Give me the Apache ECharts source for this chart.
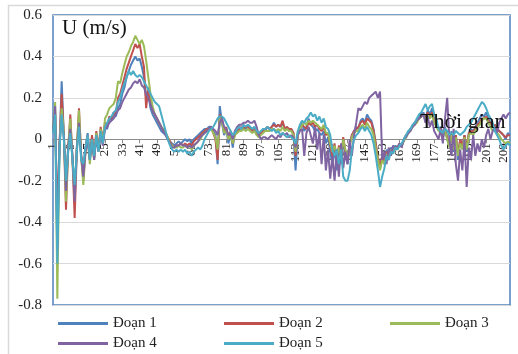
<!DOCTYPE html>
<html>
<head>
<meta charset="utf-8">
<script src="https://cdn.jsdelivr.net/npm/echarts@6/dist/echarts.min.js"></script>
<style>
  html, body { margin: 0; padding: 0; background: #fff; }
  #chart { width: 518px; height: 354px; }
</style>
</head>
<body>
<div id="chart"></div>
<script>
// Time steps 1..212
const categories = Array.from({ length: 212 }, (_, k) => String(k + 1));

const seriesNames = ['Đoạn 1', 'Đoạn 2', 'Đoạn 3', 'Đoạn 4', 'Đoạn 5'];
const seriesColors = ['#4F81BD', '#C0504D', '#9BBB59', '#8064A2', '#4BACC6'];

const yTicks = { min: -0.8, max: 0.6, step: 0.2 };

// Velocity U (m/s) per segment
const doan1 = [
  0.05, 0.14, -0.45, -0.05, 0.28, 0.02, -0.22, -0.04, 0.06, -0.10,
  -0.25, -0.04, 0.08, -0.08, -0.15, -0.04, 0.03, -0.08, 0.01, -0.09,
  0.02, -0.05, 0.04, -0.02, 0.06, 0.05, 0.10, 0.09, 0.12, 0.11,
  0.15, 0.17, 0.22, 0.25, 0.30, 0.33, 0.36, 0.38, 0.40, 0.38,
  0.39, 0.35, 0.30, 0.20, 0.22, 0.15, 0.12, 0.10, 0.08, 0.06,
  0.04, 0.03, 0.02, 0.00, -0.01, -0.02, -0.03, -0.02, -0.01, -0.02,
  -0.01, 0.00, -0.01, 0.00, -0.02, 0.00, 0.01, 0.02, 0.03, 0.04,
  0.05, 0.05, 0.06, 0.06, 0.04, 0.02, -0.12, 0.16, 0.08, 0.02,
  0.05, -0.02, 0.03, -0.04, 0.04, 0.03, 0.06, 0.05, 0.06, 0.05,
  0.07, 0.06, 0.05, 0.06, 0.04, 0.02, 0.03, 0.05, 0.04, 0.06,
  0.05, 0.06, 0.08, 0.06, 0.07, 0.06, 0.08, 0.05, 0.06, 0.04,
  0.05, 0.03, -0.15, 0.02, 0.06, 0.08, 0.04, 0.06, 0.10, 0.07,
  0.06, 0.04, 0.05, 0.03, 0.02, 0.04, -0.02, 0.01, -0.06, -0.12,
  -0.04, -0.15, -0.05, -0.12, 0.00, -0.08, -0.12, -0.02, 0.02, 0.04,
  0.06, 0.05, 0.09, 0.10, 0.08, 0.12, 0.10, 0.09, 0.05, -0.02,
  -0.10, -0.14, -0.08, -0.12, -0.05, -0.08, -0.04, -0.06, -0.03, -0.05,
  -0.02, -0.03, 0.00, 0.02, 0.03, 0.05, 0.06, 0.08, 0.09, 0.11,
  0.12, 0.13, 0.10, 0.14, 0.12, 0.15, 0.10, 0.08, 0.05, 0.06,
  0.02, 0.06, 0.00, -0.03, 0.04, -0.06, 0.02, -0.10, 0.00, -0.04,
  0.02, -0.06, 0.03, 0.05, 0.04, 0.06, 0.08, 0.10, 0.12, 0.11,
  0.13, 0.10, 0.08, 0.06, 0.07, 0.05, 0.04, 0.03, 0.02, 0.00, 0.03, 0.02
];

const doan2 = [
  0.04, 0.12, -0.40, -0.02, 0.22, 0.02, -0.34, -0.05, 0.12, -0.10,
  -0.38, -0.05, 0.15, -0.08, -0.20, -0.05, 0.02, -0.10, 0.02, -0.08,
  0.04, -0.05, 0.06, 0.00, 0.08, 0.06, 0.11, 0.10, 0.13, 0.12,
  0.20, 0.22, 0.26, 0.30, 0.34, 0.37, 0.40, 0.43, 0.46, 0.44,
  0.46, 0.40, 0.35, 0.15, 0.25, 0.18, 0.14, 0.12, 0.10, 0.08,
  0.06, 0.04, 0.03, 0.01, -0.01, -0.03, -0.04, -0.03, -0.03, -0.02,
  -0.03, -0.02, -0.03, -0.02, -0.03, -0.01, 0.00, 0.01, 0.02, 0.03,
  0.04, 0.05, 0.05, 0.06, 0.03, 0.00, -0.10, 0.12, 0.10, 0.04,
  0.06, 0.00, 0.04, -0.02, 0.03, 0.04, 0.05, 0.06, 0.05, 0.06,
  0.06, 0.05, 0.04, 0.05, 0.03, 0.02, 0.03, 0.04, 0.05, 0.06,
  0.05, 0.06, 0.07, 0.06, 0.07, 0.06, 0.09, 0.05, 0.06, 0.05,
  0.05, 0.03, -0.08, 0.02, 0.05, 0.07, 0.06, 0.05, 0.08, 0.07,
  0.08, 0.06, 0.07, 0.05, 0.04, 0.06, 0.02, 0.03, -0.03, -0.08,
  -0.02, -0.10, -0.03, -0.10, 0.01, -0.06, -0.10, -0.02, 0.02, 0.04,
  0.05, 0.06, 0.08, 0.09, 0.07, 0.10, 0.09, 0.08, 0.04, -0.02,
  -0.09, -0.13, -0.08, -0.11, -0.06, -0.08, -0.05, -0.06, -0.04, -0.04,
  -0.02, -0.03, 0.00, 0.02, 0.03, 0.05, 0.06, 0.08, 0.09, 0.10,
  0.11, 0.12, 0.10, 0.13, 0.11, 0.13, 0.09, 0.07, 0.05, 0.05,
  0.02, 0.05, 0.01, -0.02, 0.03, -0.04, 0.02, -0.07, 0.00, -0.03,
  0.02, -0.04, 0.03, 0.04, 0.04, 0.05, 0.07, 0.08, 0.10, 0.10,
  0.11, 0.09, 0.08, 0.06, 0.07, 0.05, 0.04, 0.03, 0.02, 0.01, 0.02, 0.02
];

const doan3 = [
  0.06, 0.18, -0.77, -0.03, 0.15, 0.03, -0.30, -0.04, 0.10, -0.10,
  -0.28, -0.04, 0.14, -0.08, -0.22, -0.06, 0.01, -0.12, 0.00, -0.10,
  0.03, -0.06, 0.05, -0.02, 0.10, 0.12, 0.15, 0.16, 0.17, 0.20,
  0.28, 0.27, 0.32, 0.36, 0.40, 0.42, 0.45, 0.47, 0.50, 0.48,
  0.46, 0.48, 0.45, 0.38, 0.30, 0.22, 0.16, 0.12, 0.10, 0.08,
  0.06, 0.05, 0.03, 0.01, -0.02, -0.03, -0.04, -0.04, -0.03, -0.04,
  -0.04, -0.03, -0.04, -0.03, -0.05, -0.03, -0.02, -0.01, 0.00, 0.02,
  0.03, 0.04, 0.05, 0.05, 0.03, 0.01, -0.05, 0.10, 0.09, 0.03,
  0.04, 0.00, 0.02, -0.02, 0.02, 0.03, 0.04, 0.04, 0.05, 0.04,
  0.05, 0.04, 0.03, 0.04, 0.02, 0.01, 0.02, 0.03, 0.04, 0.04,
  0.04, 0.05, 0.05, 0.04, 0.05, 0.04, 0.06, 0.04, 0.05, 0.04,
  0.04, 0.02, -0.06, 0.02, 0.05, 0.07, 0.08, 0.07, 0.09, 0.08,
  0.09, 0.08, 0.07, 0.06, 0.05, 0.07, 0.03, 0.03, -0.02, -0.06,
  -0.03, -0.08, -0.04, -0.09, 0.00, -0.05, -0.08, -0.03, 0.01, 0.03,
  0.04, 0.04, 0.06, 0.07, 0.05, 0.08, 0.06, 0.05, 0.02, -0.04,
  -0.10, -0.15, -0.10, -0.12, -0.07, -0.09, -0.05, -0.07, -0.04, -0.05,
  -0.03, -0.03, -0.01, 0.01, 0.03, 0.04, 0.06, 0.07, 0.08, 0.10,
  0.11, 0.12, 0.09, 0.12, 0.10, 0.12, 0.08, 0.06, 0.04, 0.04,
  0.01, 0.04, 0.00, -0.04, 0.02, -0.05, 0.01, -0.08, -0.02, -0.05,
  0.01, -0.05, 0.02, 0.03, 0.02, 0.04, 0.06, 0.07, 0.09, 0.10,
  0.10, 0.08, 0.06, 0.04, 0.05, 0.03, 0.02, 0.00, -0.01, -0.02, -0.01, -0.02
];

const doan4 = [
  0.05, 0.16, -0.53, -0.02, 0.10, 0.02, -0.25, -0.04, 0.05, -0.08,
  -0.30, -0.05, 0.08, -0.08, -0.18, -0.06, 0.00, -0.10, -0.01, -0.10,
  0.01, -0.06, 0.03, -0.03, 0.05, 0.06, 0.08, 0.09, 0.10, 0.12,
  0.14, 0.15, 0.18, 0.20, 0.22, 0.24, 0.25, 0.27, 0.28, 0.27,
  0.29, 0.26, 0.25, 0.22, 0.20, 0.17, 0.14, 0.12, 0.10, 0.08,
  0.06, 0.04, 0.02, 0.00, -0.02, -0.04, -0.04, -0.03, -0.03, -0.02,
  -0.03, -0.03, -0.04, -0.03, -0.04, -0.03, -0.02, -0.01, 0.01, 0.02,
  0.03, 0.04, 0.05, 0.06, 0.05, 0.04, 0.02, 0.08, 0.10, 0.06,
  0.05, 0.02, 0.03, 0.00, 0.04, 0.06, 0.07, 0.07, 0.08, 0.08,
  0.09, 0.08, 0.08, 0.09, 0.06, 0.02, 0.00, 0.01, 0.01, 0.00,
  0.01, 0.02, 0.01, 0.00, 0.02, 0.01, 0.03, 0.02, 0.03, 0.01,
  0.02, 0.01, -0.04, 0.02, 0.04, 0.05, -0.08, 0.03, 0.06, 0.02,
  -0.02, 0.06, -0.05, 0.03, -0.12, 0.02, -0.15, -0.05, -0.19, -0.08,
  -0.20, -0.05, -0.18, -0.02, -0.14, -0.06, -0.12, 0.00, -0.08, 0.02,
  0.08, 0.15, 0.14, 0.16, 0.18, 0.17, 0.20, 0.21, 0.22, 0.23,
  0.20, 0.23, -0.10, -0.06, -0.12, -0.04, -0.08, -0.03, -0.05, -0.04,
  -0.02, -0.04, 0.00, 0.01, 0.03, 0.04, 0.06, 0.07, 0.09, 0.10,
  0.11, 0.12, 0.08, 0.11, 0.06, 0.09, 0.04, 0.02, 0.00, 0.05,
  -0.02, 0.10, 0.20, 0.00, -0.08, 0.05, -0.12, -0.20, -0.05, -0.15,
  0.00, -0.23, -0.04, -0.10, 0.02, -0.08, -0.02, -0.06, 0.00, -0.04,
  0.02, 0.05, 0.00, 0.04, 0.06, 0.03, 0.08, 0.10, 0.12, 0.10, 0.12, 0.13
];

const doan5 = [
  0.03, 0.12, -0.60, -0.05, 0.12, 0.00, -0.20, -0.06, 0.03, -0.10,
  -0.22, -0.06, 0.06, -0.10, -0.12, -0.04, 0.02, -0.10, 0.00, -0.08,
  0.02, -0.06, 0.04, -0.02, 0.06, 0.08, 0.10, 0.11, 0.13, 0.14,
  0.18, 0.20, 0.24, 0.27, 0.30, 0.33, 0.31, 0.33, 0.31, 0.30,
  0.31, 0.30, 0.28, 0.26, 0.24, 0.22, 0.20, 0.18, 0.17, 0.16,
  0.12, 0.08, 0.04, 0.00, -0.03, -0.05, -0.06, -0.05, -0.06, -0.05,
  -0.06, -0.05, -0.07, -0.06, -0.08, -0.06, -0.05, -0.04, -0.05, -0.03,
  0.00, 0.02, 0.04, 0.05, 0.06, 0.08, 0.10, 0.11, 0.11, 0.10,
  0.08, 0.06, 0.04, 0.02, 0.03, 0.05, 0.06, 0.05, 0.07, 0.06,
  0.07, 0.06, 0.05, 0.06, 0.04, 0.03, 0.04, 0.05, 0.05, 0.06,
  0.05, 0.04, 0.05, 0.03, 0.04, 0.02, 0.03, 0.02, 0.01, 0.02,
  0.01, 0.00, -0.02, 0.04, 0.07, 0.09, 0.08, 0.10, 0.11, 0.13,
  0.11, 0.12, 0.09, 0.11, 0.08, 0.10, 0.06, 0.05, 0.02, -0.05,
  -0.08, -0.05, -0.12, -0.05, -0.18, -0.20, -0.20, -0.15, -0.05, 0.00,
  0.02, 0.03, 0.05, 0.06, 0.04, 0.06, 0.04, 0.02, -0.02, -0.08,
  -0.15, -0.23, -0.18, -0.14, -0.08, -0.10, -0.06, -0.07, -0.04, -0.05,
  -0.03, -0.02, 0.00, 0.02, 0.04, 0.05, 0.07, 0.08, 0.10, 0.12,
  0.13, 0.15, 0.17, 0.14, 0.16, 0.17, 0.12, 0.10, 0.05, 0.04,
  0.03, 0.05, 0.04, 0.02, 0.03, 0.02, 0.04, 0.03, 0.02, 0.03,
  0.04, 0.06, 0.07, 0.08, 0.10, 0.12, 0.14, 0.16, 0.18, 0.17,
  0.15, 0.12, 0.10, 0.08, 0.04, 0.02, 0.00, -0.03, -0.05, -0.03, -0.02, -0.03
];

const seriesData = [doan1, doan2, doan3, doan4, doan5];

const serif = '"Liberation Serif", "Times New Roman", serif';

// Plot box
const gridBox = { left: 53, top: 15, width: 457, height: 290 };
// Distance from the bottom edge up to the zero line, so the category axis sits on U = 0
const zeroOffset = -gridBox.height * (0 - yTicks.min) / (yTicks.max - yTicks.min);

// Legend: two rows, three columns
const legendSlots = [
  { left: 58, top: 316 },
  { left: 224, top: 316 },
  { left: 390, top: 316 },
  { left: 58, top: 336 },
  { left: 224, top: 336 }
];

const chart = echarts.init(document.getElementById('chart'), null, { renderer: 'canvas' });

chart.setOption({
  animation: false,
  backgroundColor: '#fff',
  color: seriesColors,
  grid: Object.assign({
    show: true, borderColor: '#4F81BD', borderWidth: 1.5, backgroundColor: '#fff',
    containLabel: false
  }, gridBox),
  legend: seriesNames.map((name, i) => ({
    data: [name],
    left: legendSlots[i].left,
    top: legendSlots[i].top,
    icon: 'rect',
    itemWidth: 50,
    itemHeight: 3,
    padding: 0,
    selectedMode: false,
    textStyle: { fontFamily: serif, fontSize: 15, color: '#222' }
  })),
  xAxis: {
    type: 'category',
    data: categories,
    boundaryGap: false,
    position: 'bottom',
    offset: zeroOffset,
    axisLine: { onZero: false, lineStyle: { color: '#8c8c8c', width: 1 } },
    axisTick: { show: true, interval: 7, length: 4, lineStyle: { color: '#8c8c8c' } },
    axisLabel: {
      interval: 7, rotate: 90, margin: 4,
      fontFamily: serif, fontSize: 13, color: '#222'
    },
    splitLine: { show: false }
  },
  yAxis: {
    type: 'value',
    min: yTicks.min, max: yTicks.max, interval: yTicks.step,
    axisLine: { show: false },
    axisTick: { show: false },
    axisLabel: {
      margin: 11, fontFamily: serif, fontSize: 15, color: '#222',
      formatter: v => String(Math.round(v * 10) / 10)
    },
    splitLine: { lineStyle: { color: '#D9D9D9', width: 1.2 } }
  },
  series: seriesNames.map((name, i) => ({
    name,
    type: 'line',
    data: seriesData[i],
    symbol: 'none',
    lineStyle: { width: 2, color: seriesColors[i] },
    z: 2 + i
  })),
  graphic: [
    {
      type: 'rect', z: -10, silent: true,
      shape: { x: 8.5, y: 5.5, width: 540, height: 400 },
      style: { fill: null, stroke: '#D9D9D9', lineWidth: 1.5 }
    },
    {
      type: 'text', left: 62, top: 18, z: 100,
      style: { text: 'U (m/s)', font: '21px ' + serif, fill: '#111' }
    },
    {
      type: 'text', left: 420, top: 111, z: 100,
      style: { text: 'Thời gian', font: '22px ' + serif, fill: '#111' }
    }
  ]
});
</script>
</body>
</html>
